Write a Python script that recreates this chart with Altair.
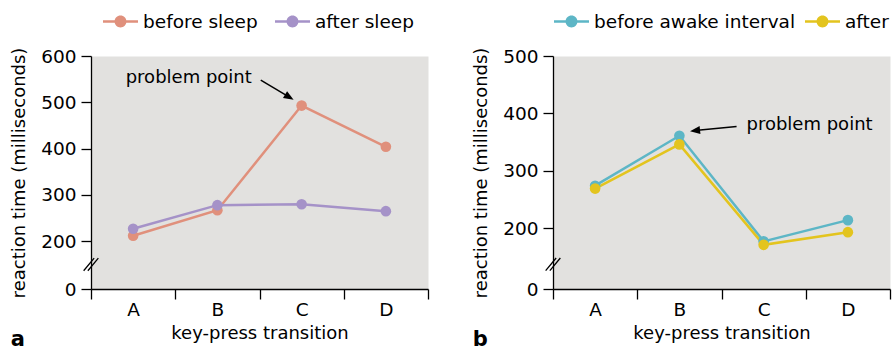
import altair as alt
import pandas as pd

FONT = "DejaVu Sans"

transitions = ["A", "B", "C", "D"]

sleep_series = ["before sleep", "after sleep"]
before_sleep = [212, 267, 493, 404]
after_sleep = [227, 278, 280, 265]

# the second legend entry is cut off by the figure edge in the source: only "after" is visible
awake_series = ["before awake interval", "after"]
before_awake = [274, 361, 177, 214]
after_awake = [269, 346, 171, 193]

sleep_colors = ["#e0907c", "#a592c8"]
awake_colors = ["#5db6c6", "#e3c41e"]

sleep_y_ticks = [97, 200, 300, 400, 500, 600]
awake_y_ticks = [94, 200, 300, 400, 500]

# annotation positions: x in band units (0 = y axis, 4 = right edge), y in ms
sleep_note_xy = [1.16, 552]
sleep_arrow_from = [2.015, 548]
sleep_arrow_to = [2.354, 511]
sleep_arrow_angle = 31
sleep_break_y = 150

awake_note_xy = [3.045, 380]
awake_arrow_from = [2.179, 377]
awake_arrow_to = [1.686, 370]
awake_arrow_angle = 174
awake_break_y = 137

ARROW = "M1,0L-1,-0.8L-1,0.8Z"
BREAK = "M-1.05,0.9L0.45,-0.9M-0.45,0.9L1.05,-0.9"
# legend glyph: short line with a dot in the middle (filled outline)
LEG_SYM = ("M-1,-0.075H1V0.075H-1Z"
           "M-0.34,0A0.34,0.34 0 1,1 0.34,0A0.34,0.34 0 1,1 -0.34,0Z")


def panel(series, vals_a, vals_b, colors, ticks, legend_x, col_pad,
          note_xy, arrow_from, arrow_to, angle, break_y, letter):
    df = pd.DataFrame({
        "transition": transitions * 2,
        "series": [series[0]] * 4 + [series[1]] * 4,
        "value": vals_a + vals_b,
    })
    xenc = alt.X("transition:N", sort=transitions,
                 scale=alt.Scale(type="band", paddingInner=0, paddingOuter=0),
                 axis=alt.Axis(title="key-press transition", labelAngle=0, tickBand="extent"))
    yenc = alt.Y("value:Q",
                 scale=alt.Scale(domain=[ticks[0], ticks[-1]], nice=False, zero=False),
                 axis=alt.Axis(title="reaction time (milliseconds)", values=ticks,
                               labelExpr="datum.value < 150 ? '0' : datum.label"))
    legend = alt.Legend(title=None, orient="none", direction="horizontal",
                        legendX=legend_x, legendY=-52, symbolType=LEG_SYM, symbolSize=1225,
                        symbolStrokeWidth=0, labelOffset=5, columnPadding=col_pad,
                        labelFontSize=18.5, labelFont=FONT, labelColor="black",
                        labelLimit=400, padding=0)
    cs = alt.Scale(domain=series, range=colors)
    lines = [
        alt.Chart(df).transform_filter(alt.datum.series == s)
        .mark_line(strokeWidth=2.5, color=c).encode(x=xenc, y=yenc)
        for s, c in zip(series, colors)
    ]
    points = alt.Chart(df).mark_point(filled=True, size=113, opacity=1, strokeWidth=0).encode(
        x=xenc, y=yenc,
        fill=alt.Fill("series:N", scale=cs, legend=legend))

    ax = alt.X("ax:Q", scale=alt.Scale(domain=[0, 4], nice=False, zero=False), axis=None)
    note_df = pd.DataFrame({"ax": [note_xy[0]], "value": [note_xy[1]], "label": ["problem point"]})
    note = alt.Chart(note_df).mark_text(font=FONT, fontSize=18, align="center",
                                        baseline="middle", color="black").encode(
        x=ax, y=yenc, text="label:N")
    arr_df = pd.DataFrame({"ax": [arrow_from[0]], "ax2": [arrow_to[0]],
                           "value": [arrow_from[1]], "value2": [arrow_to[1]]})
    rule = alt.Chart(arr_df).mark_rule(color="black", strokeWidth=1.5).encode(
        x=ax, x2="ax2:Q", y=yenc, y2="value2:Q")
    head_df = pd.DataFrame({"ax": [arrow_to[0]], "value": [arrow_to[1]]})
    head = alt.Chart(head_df).mark_point(shape=ARROW, filled=True, size=100, angle=angle,
                                         color="black", opacity=1).encode(x=ax, y=yenc)
    brk_df = pd.DataFrame({"ax": [0], "value": [break_y]})
    brk = alt.Chart(brk_df).mark_point(shape=BREAK, filled=False, size=196, strokeWidth=1.3,
                                       color="black", opacity=1).encode(x=ax, y=yenc)

    data_layer = alt.layer(*lines, points)
    ann_layer = alt.layer(note, rule, head, brk)
    return alt.layer(data_layer, ann_layer).resolve_scale(x="independent").properties(
        width=337, height=233,
        title=alt.TitleParams(letter, orient="bottom", anchor="start", frame="bounds",
                              font=FONT, fontSize=21, fontWeight="bold", color="black",
                              offset=-14))


left = panel(sleep_series, before_sleep, after_sleep, sleep_colors, sleep_y_ticks, 12, 17,
             sleep_note_xy, sleep_arrow_from, sleep_arrow_to, sleep_arrow_angle,
             sleep_break_y, "a")
right = panel(awake_series, before_awake, after_awake, awake_colors, awake_y_ticks, 1, 9,
              awake_note_xy, awake_arrow_from, awake_arrow_to, awake_arrow_angle,
              awake_break_y, "b")

chart = alt.hconcat(left, right, spacing=42).resolve_scale(
    fill="independent"
).resolve_legend(fill="independent").properties(
    padding={"left": 10, "top": 3, "right": 0, "bottom": 0}
).configure_view(fill="#e2e1df", stroke="transparent").configure_axis(
    domainColor="black", domainWidth=1.3, tickColor="black", tickWidth=1.3, tickSize=10,
    labelFont=FONT, labelFontSize=18.5, labelColor="black",
    titleFont=FONT, titleFontSize=18, titleFontWeight="normal", titleColor="black",
    grid=False
).configure_axisY(labelPadding=5, titlePadding=12).configure_axisX(labelPadding=1, titlePadding=6)

chart.save("out.html", embed_options={"renderer": "svg", "actions": False})
